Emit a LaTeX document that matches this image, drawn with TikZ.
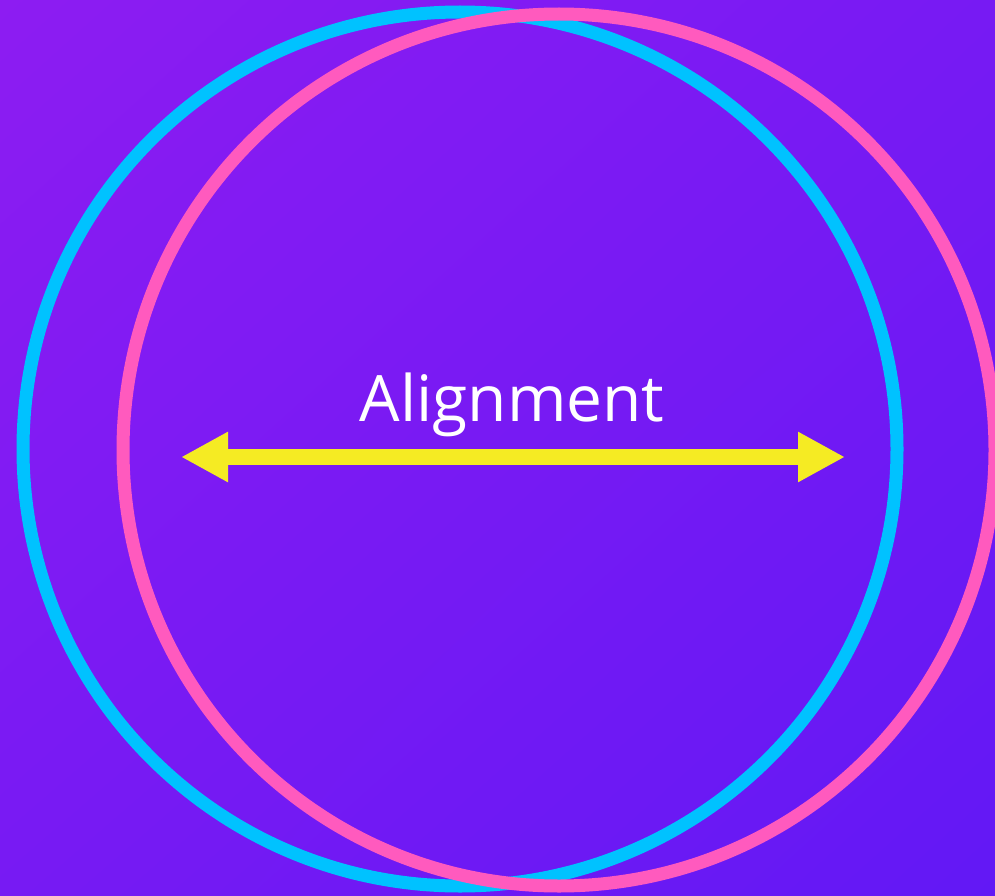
\documentclass[tikz,border=0pt]{standalone}
\usepackage{fontspec}
\setmainfont{Open Sans}
\usepackage{tikz}
\usetikzlibrary{arrows.meta,shadings}
\definecolor{bgtl}{RGB}{141,28,242}
\definecolor{bgbr}{RGB}{98,24,245}
\definecolor{bgmid}{RGB}{119,26,243}
\definecolor{ringblue}{RGB}{0,194,255}
\definecolor{ringpink}{RGB}{255,90,190}
\definecolor{arrowyellow}{RGB}{245,235,35}

\begin{document}
\begin{tikzpicture}[x=1pt,y=-1pt,line join=round,
  ring/.style={line width=13pt},
  twoway/.style={arrowyellow,line width=16pt,{Triangle[length=47pt,width=47pt]}-{Triangle[length=47pt,width=47pt]}}]
  % canvas in pixel units, gradient backdrop, two rings and the double arrow
  \useasboundingbox (0,0) rectangle (995,896);
  \clip (0,0) rectangle (995,896);
  \shade[upper left=bgtl,upper right=bgmid,lower left=bgmid,lower right=bgbr] (0,0) rectangle (995,896);
  \draw[ring,ringblue] (460,449) circle (437);
  \draw[ring,ringpink] (559,450) circle (436);
  \coordinate (lefttip) at (181,457);
  \coordinate (righttip) at (845,457);
  \draw[twoway] (lefttip) -- (righttip);
  \node[white,font=\fontsize{64}{70}\selectfont,anchor=base] (label) at (512,421) {Alignment};
\end{tikzpicture}
\end{document}
